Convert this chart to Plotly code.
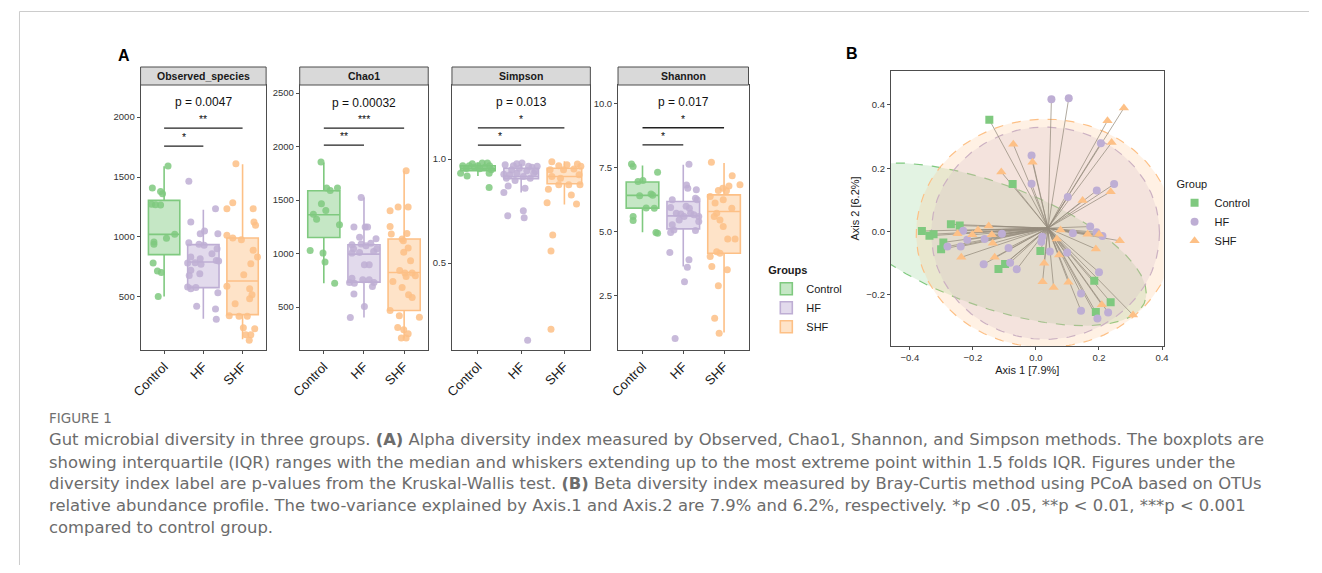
import numpy as np
import plotly.graph_objects as go

PAGE_W, PAGE_H = 1322, 573
OFF = 8  # browser body margin
W, H = PAGE_W - 2 * OFF, PAGE_H - 2 * OFF

# ---------------- data ----------------
groups = ["Control", "HF", "SHF"]
colors = ["#7FC97F", "#BEAED4", "#FDC086"]
facet_names = ["Observed_species", "Chao1", "Simpson", "Shannon"]
p_values = ["p = 0.0047", "p = 0.00032", "p = 0.013", "p = 0.017"]
sig_short = ["*", "**", "*", "*"]      # Control vs HF
sig_long = ["**", "***", "*", "*"]     # Control vs SHF
bar_short_y = [1758, 2014, 1.067, 8.40]
bar_long_y = [1908, 2173, 1.150, 9.07]
p_label_y = [2125, 2407, 1.275, 10.09]
y_ranges = [[58, 2267], [100, 2575], [0.082, 1.356], [0.39, 10.74]]
y_ticks = [[500, 1000, 1500, 2000], [500, 1000, 1500, 2000, 2500], [0.5, 1.0], [2.5, 5.0, 7.5, 10.0]]
y_tickfmt = ["d", "d", ".1f", ".1f"]

# box statistics (Control, HF, SHF)
obs_q1 = [853, 578, 353]
obs_median = [1022, 792, 633]
obs_q3 = [1305, 936, 992]
obs_lower = [505, 319, 147]
obs_upper = [1589, 1228, 1606]

chao_q1 = [1151, 734, 469]
chao_median = [1363, 995, 824]
chao_q3 = [1587, 1083, 1136]
chao_lower = [724, 404, 211]
chao_upper = [1852, 1525, 1774]

simp_q1 = [0.944, 0.905, 0.881]
simp_median = [0.953, 0.916, 0.916]
simp_q3 = [0.968, 0.956, 0.956]
simp_lower = [0.919, 0.839, 0.782]
simp_upper = [0.984, 0.977, 0.989]

shan_q1 = [5.93, 5.12, 4.17]
shan_median = [6.43, 5.63, 5.80]
shan_q3 = [6.95, 6.19, 6.45]
shan_lower = [4.99, 3.65, 1.07]
shan_upper = [7.60, 7.63, 7.69]

# sample values and their horizontal jitter (category units)
obs_control = [1592, 1408, 1380, 1361, 1272, 1269, 1266, 1023, 989, 958, 939, 783, 717, 703, 505]
obs_control_jit = [0.10, -0.30, -0.09, -0.04, -0.32, -0.22, -0.09, 0.27, 0.06, -0.26, -0.26, -0.28, -0.17, -0.07, -0.15]
obs_hf = [1464, 1125, 1236, 1028, 1050, 1028, 953, 939, 931, 903, 861, 833, 819, 805, 783, 786, 772, 800,
          722, 694, 680, 583, 569, 578, 536, 422, 400, 314]
obs_hf_jit = [-0.37, -0.32, 0.31, -0.08, 0.03, 0.37, -0.37, -0.11, 0.02, 0.35, 0.22, -0.32, -0.08, 0.33, -0.40,
              -0.21, -0.06, 0.39, -0.32, -0.09, -0.36, -0.40, -0.32, -0.19, 0.37, -0.17, 0.31, 0.33]
obs_shf = [1611, 1286, 1236, 1236, 1125, 1097, 1014, 992, 978, 889, 833, 778, 686, 589, 569, 519, 486, 444,
           344, 339, 339, 244, 236, 186, 186, 139]
obs_shf_jit = [-0.17, -0.25, -0.40, 0.27, 0.29, 0.33, -0.40, -0.25, -0.03, 0.27, 0.38, 0.21, 0.03, -0.40, 0.18,
               0.24, 0.18, -0.19, -0.34, -0.09, 0.12, 0.02, 0.31, 0.08, 0.21, 0.17]

chao_control = [1855, 1612, 1590, 1612, 1466, 1404, 1369, 1322, 1270, 1030, 1005, 921, 724]
chao_control_jit = [-0.07, 0.07, 0.16, 0.34, -0.06, 0.05, -0.26, -0.18, 0.39, -0.34, -0.02, 0.03, 0.27]
chao_hf = [1525, 1248, 1248, 1248, 1154, 1139, 1083, 1089, 1073, 1098, 1045, 1045, 1005, 1011, 1020, 896, 896,
           771, 756, 756, 731, 724, 731, 693, 622, 506, 404]
chao_hf_jit = [-0.07, -0.25, 0.03, 0.09, -0.11, 0.30, -0.30, -0.07, 0.05, 0.17, -0.26, 0.32, -0.30, -0.11, 0.24,
               0.01, 0.13, -0.30, -0.03, 0.13, -0.36, -0.24, 0.25, 0.21, -0.25, 0.01, -0.34]
chao_shf = [1774, 1400, 1435, 1435, 1254, 1183, 1189, 1136, 1120, 1052, 1014, 933, 843, 818, 818, 787, 793, 684,
            740, 615, 590, 469, 419, 407, 310, 288, 251, 211, 211]
chao_shf_jit = [0.05, -0.35, -0.15, 0.10, -0.35, -0.32, 0.07, -0.05, -0.02, 0.10, -0.01, 0.16, -0.11, 0.02, 0.20,
                0.05, 0.28, -0.05, -0.28, 0.11, 0.20, -0.35, -0.12, 0.38, -0.16, -0.01, 0.10, -0.07, 0.05]

simp_control = [0.968, 0.919, 0.932, 0.968, 0.977, 0.968, 0.981, 0.981, 0.968, 0.948, 0.932, 0.960, 0.960,
                0.955, 0.863, 0.953]
simp_control_jit = [-0.35, -0.25, -0.40, -0.20, -0.13, 0.0, 0.10, 0.22, 0.27, 0.31, 0.26, -0.08, 0.16, -0.27,
                    0.26, 0.04]
simp_hf = [0.973, 0.968, 0.977, 0.981, 0.965, 0.961, 0.965, 0.927, 0.924, 0.932, 0.916, 0.932, 0.948, 0.944,
           0.871, 0.860, 0.839, 0.727, 0.752, 0.718, 0.129, 0.956, 0.908, 0.908, 0.897, 0.940]
simp_hf_jit = [-0.37, -0.18, -0.10, 0.02, 0.17, 0.25, 0.37, -0.40, -0.26, -0.10, 0.05, 0.29, -0.22, 0.13, -0.30,
               0.09, -0.40, -0.31, 0.05, 0.07, 0.15, -0.04, -0.34, 0.21, -0.14, 0.33]
simp_shf = [0.987, 0.968, 0.973, 0.976, 0.965, 0.948, 0.948, 0.952, 0.924, 0.916, 0.908, 0.855, 0.876, 0.876,
            0.876, 0.827, 0.790, 0.784, 0.635, 0.558, 0.182]
simp_shf_jit = [-0.29, -0.13, 0.06, 0.30, 0.38, -0.33, -0.02, 0.22, 0.34, -0.29, -0.09, -0.37, -0.13, 0.10,
                0.36, 0.16, -0.40, 0.28, -0.27, -0.31, -0.31]

shan_control = [7.65, 7.56, 6.97, 7.01, 7.33, 6.41, 6.48, 6.43, 5.94, 5.93, 5.60, 5.45, 4.98, 4.95]
shan_control_jit = [-0.27, -0.23, -0.11, 0.01, 0.37, -0.07, 0.21, 0.25, 0.09, 0.29, -0.23, -0.23, 0.33, 0.37]
shan_hf = [7.64, 6.83, 6.71, 6.65, 6.32, 6.26, 6.26, 5.96, 5.73, 5.70, 5.73, 5.67, 5.60, 5.41, 5.60, 5.47, 5.28,
           5.08, 5.06, 4.98, 6.00, 5.93, 4.20, 3.91, 3.62, 3.06, 0.84]
shan_hf_jit = [0.14, 0.08, 0.11, 0.32, 0.30, 0.34, -0.27, -0.31, -0.17, -0.06, 0.18, 0.26, 0.38, 0.38, 0.02,
               -0.10, -0.27, -0.23, 0.30, -0.31, 0.07, 0.15, -0.33, 0.14, 0.10, 0.03, -0.20]
shan_shf = [7.72, 7.20, 6.84, 6.80, 6.71, 6.62, 6.61, 6.39, 6.13, 6.26, 5.93, 5.73, 5.60, 5.47, 5.21, 4.73, 4.73,
            4.23, 4.17, 4.04, 3.65, 3.52, 2.90, 1.63, 1.04]
shan_shf_jit = [-0.31, 0.20, 0.39, 0.12, -0.03, -0.14, 0.06, -0.34, -0.22, -0.02, 0.19, -0.18, -0.24, -0.10,
                -0.02, 0.27, 0.09, -0.18, -0.10, -0.34, -0.30, 0.08, -0.14, -0.23, -0.12]

# PCoA coordinates (Axis 1, Axis 2)
pc_control_x = [-0.148, -0.074, -0.362, -0.338, -0.325, -0.294, -0.301, -0.270, -0.242, -0.119, -0.098,
                0.014, 0.185, 0.237, 0.190]
pc_control_y = [0.353, 0.150, 0.002, -0.013, -0.008, -0.034, -0.056, 0.023, 0.019, -0.118, -0.102,
                -0.061, -0.155, -0.223, -0.254]
pc_hf_x = [-0.231, -0.218, -0.281, -0.239, -0.163, -0.108, -0.087, -0.166, -0.082, -0.061, -0.014, -0.014,
           0.049, 0.104, 0.206, 0.101, 0.193, 0.248, 0.172, 0.192, 0.211, 0.117, 0.020, 0.017, 0.044, 0.099,
           0.200, 0.143, 0.143, 0.195, 0.229]
pc_hf_y = [0.003, -0.026, -0.047, -0.047, -0.023, -0.007, -0.052, -0.103, -0.098, -0.119, 0.240, 0.151,
           0.418, 0.421, 0.279, 0.109, 0.130, 0.150, 0.016, -0.002, -0.014, -0.005, -0.016, -0.032, -0.063,
           -0.066, -0.128, -0.195, -0.250, -0.274, -0.255]
pc_shf_x = [-0.072, -0.011, -0.110, -0.150, -0.184, -0.202, -0.249, -0.140, -0.137, -0.131, -0.237,
            0.279, 0.227, 0.240, 0.237, 0.148, 0.078, 0.066, 0.164, 0.200, 0.266, 0.190, 0.073, 0.026,
            0.021, 0.056, 0.103, 0.209, 0.308]
pc_shf_y = [0.276, 0.219, 0.188, 0.018, 0.005, -0.010, -0.007, -0.010, -0.037, -0.081, -0.081,
            0.390, 0.350, 0.281, 0.126, 0.098, 0.005, -0.023, -0.008, -0.008, -0.029, -0.055, -0.074, -0.100,
            -0.158, -0.176, -0.160, -0.231, -0.263]
pc_centroid = [0.038, 0.011]

# 95% ellipses: centre, horizontal half-width, tilt of chord midline, vertical half-chord at centre
ell_cx = [-0.15, 0.03, 0.03]
ell_cy = [-0.04, -0.005, -0.005]
ell_h = [0.50, 0.362, 0.41]
ell_tilt = [-0.31, 0.0, 0.0]
ell_k = [0.205, 0.335, 0.36]

caption_title = "FIGURE 1"
caption_lines = [
    "Gut microbial diversity in three groups. <b>(A)</b> Alpha diversity index measured by Observed, Chao1, Shannon, and Simpson methods. The boxplots are",
    "showing interquartile (IQR) ranges with the median and whiskers extending up to the most extreme point within 1.5 folds IQR. Figures under the",
    "diversity index label are p-values from the Kruskal-Wallis test. <b>(B)</b> Beta diversity index measured by Bray-Curtis method using PCoA based on OTUs",
    "relative abundance profile. The two-variance explained by Axis.1 and Axis.2 are 7.9% and 6.2%, respectively. *p &lt;0 .05, **p &lt; 0.01, ***p &lt; 0.001",
    "compared to control group.",
]

# ---------------- layout helpers (page pixel -> paper) ----------------
def px_x(p):
    return (p - OFF) / W

def px_y(p):
    return 1 - (p - OFF) / H

def rgba(hexc, a):
    h = hexc.lstrip("#")
    return "rgba(%d,%d,%d,%.2f)" % (int(h[0:2], 16), int(h[2:4], 16), int(h[4:6], 16), a)

FONT = "Liberation Sans, Arial, sans-serif"
facet_px = [(132, 259), (293, 423), (447, 587), (615, 747)]
panel_top, panel_bot, strip_top = 85, 350, 67

box_stats = [
    (obs_q1, obs_median, obs_q3, obs_lower, obs_upper),
    (chao_q1, chao_median, chao_q3, chao_lower, chao_upper),
    (simp_q1, simp_median, simp_q3, simp_lower, simp_upper),
    (shan_q1, shan_median, shan_q3, shan_lower, shan_upper),
]
facet_points = [
    [(obs_control, obs_control_jit), (obs_hf, obs_hf_jit), (obs_shf, obs_shf_jit)],
    [(chao_control, chao_control_jit), (chao_hf, chao_hf_jit), (chao_shf, chao_shf_jit)],
    [(simp_control, simp_control_jit), (simp_hf, simp_hf_jit), (simp_shf, simp_shf_jit)],
    [(shan_control, shan_control_jit), (shan_hf, shan_hf_jit), (shan_shf, shan_shf_jit)],
]

fig = go.Figure()
shapes = []
annotations = []
layout = {}

for f in range(4):
    sfx = "" if f == 0 else str(f + 1)
    xa, ya = "x" + sfx, "y" + sfx
    q1, med, q3, lo, up = box_stats[f]
    for g in range(3):
        fig.add_trace(go.Box(
            x=[g + 1], q1=[q1[g]], median=[med[g]], q3=[q3[g]],
            lowerfence=[lo[g]], upperfence=[up[g]],
            width=0.8, whiskerwidth=0, boxpoints=False,
            fillcolor=rgba(colors[g], 0.45), line=dict(color=colors[g], width=1.6),
            name=groups[g], legendgroup=groups[g], showlegend=(f == 0),
            legend="legend", xaxis=xa, yaxis=ya, hoverinfo="skip",
        ))
    for g in range(3):
        vals, jit = facet_points[f][g]
        fig.add_trace(go.Scatter(
            x=[g + 1 + j for j in jit], y=vals, mode="markers",
            marker=dict(color=colors[g], size=7, opacity=0.85),
            showlegend=False, xaxis=xa, yaxis=ya, hoverinfo="skip",
        ))
    x0, x1 = facet_px[f]
    layout["xaxis" + sfx] = dict(
        domain=[px_x(x0), px_x(x1)], range=[0.4, 3.6], anchor=ya,
        tickvals=[1, 2, 3], ticktext=groups, tickangle=-45,
        tickfont=dict(family=FONT, size=13, color="#1a1a1a"),
        showgrid=False, zeroline=False, showline=True, mirror=True,
        linecolor="#4d4d4d", linewidth=1, ticks="outside", ticklen=3, tickcolor="#4d4d4d",
    )
    layout["yaxis" + sfx] = dict(
        domain=[px_y(panel_bot), px_y(panel_top)], range=y_ranges[f], anchor=xa,
        tickvals=y_ticks[f], tickformat=y_tickfmt[f],
        tickfont=dict(family=FONT, size=9.5, color="#333333"),
        showgrid=False, zeroline=False, showline=True, mirror=True,
        linecolor="#4d4d4d", linewidth=1, ticks="outside", ticklen=3, tickcolor="#4d4d4d",
    )
    # strip
    shapes.append(dict(type="rect", xref="paper", yref="paper",
                       x0=px_x(x0), x1=px_x(x1), y0=px_y(panel_top), y1=px_y(strip_top),
                       fillcolor="#D9D9D9", line=dict(color="#4d4d4d", width=1)))
    annotations.append(dict(text="<b>%s</b>" % facet_names[f], xref="paper", yref="paper",
                            x=px_x((x0 + x1) / 2), y=px_y((strip_top + panel_top) / 2),
                            showarrow=False, font=dict(family=FONT, size=10.5, color="#1a1a1a"),
                            xanchor="center", yanchor="middle"))
    # p-value and significance bars
    annotations.append(dict(text=p_values[f], xref=xa, yref=ya, x=2, y=p_label_y[f],
                            showarrow=False, font=dict(family=FONT, size=12, color="#111111"),
                            xanchor="center", yanchor="middle"))
    for (gx, by, lab) in [(3, bar_long_y[f], sig_long[f]), (2, bar_short_y[f], sig_short[f])]:
        shapes.append(dict(type="line", xref=xa, yref=ya, x0=1, x1=gx, y0=by, y1=by,
                           line=dict(color="#222222", width=1.3)))
        annotations.append(dict(text=lab, xref=xa, yref=ya, x=(1 + gx) / 2, y=by,
                                showarrow=False, font=dict(family=FONT, size=10.5, color="#111111"),
                                xanchor="center", yanchor="bottom", yshift=1))

# ---------------- panel B ----------------
t = np.linspace(0, 2 * np.pi, 241)
for g in range(3):
    ex = ell_cx[g] + ell_h[g] * np.cos(t)
    ey = ell_cy[g] + ell_tilt[g] * ell_h[g] * np.cos(t) + ell_k[g] * np.sin(t)
    fig.add_trace(go.Scatter(
        x=ex, y=ey, mode="lines", fill="toself", fillcolor=rgba(colors[g], 0.22),
        line=dict(color=colors[g], width=1.2, dash="dash"),
        showlegend=False, xaxis="x5", yaxis="y5", hoverinfo="skip",
    ))

pc_sets = [(pc_control_x, pc_control_y), (pc_hf_x, pc_hf_y), (pc_shf_x, pc_shf_y)]
for g in range(3):
    sx, sy = [], []
    for px_, py_ in zip(*pc_sets[g]):
        sx += [pc_centroid[0], px_, None]
        sy += [pc_centroid[1], py_, None]
    fig.add_trace(go.Scatter(
        x=sx, y=sy, mode="lines", line=dict(color="rgba(150,140,125,0.75)", width=1),
        showlegend=False, xaxis="x5", yaxis="y5", hoverinfo="skip",
    ))

symbols = ["square", "circle", "triangle-up"]
sizes = [8, 8, 9]
for g in range(3):
    fig.add_trace(go.Scatter(
        x=pc_sets[g][0], y=pc_sets[g][1], mode="markers",
        marker=dict(color=colors[g], symbol=symbols[g], size=sizes[g]),
        name=groups[g], legend="legend2", xaxis="x5", yaxis="y5", hoverinfo="skip",
    ))

layout["xaxis5"] = dict(
    domain=[px_x(891), px_x(1167)], range=[-0.4605, 0.4053], anchor="y5",
    tickvals=[-0.4, -0.2, 0.0, 0.2, 0.4], tickformat=".1f",
    tickfont=dict(family=FONT, size=9.5, color="#333333"),
    title=dict(text="Axis 1 [7.9%]", font=dict(family=FONT, size=11, color="#1a1a1a"), standoff=3),
    showgrid=False, zeroline=False, showline=True, mirror=True,
    linecolor="#4d4d4d", linewidth=1, ticks="outside", ticklen=3, tickcolor="#4d4d4d",
)
layout["yaxis5"] = dict(
    domain=[px_y(346), px_y(71)], range=[-0.361, 0.507], anchor="x5",
    tickvals=[-0.2, 0.0, 0.2, 0.4], tickformat=".1f",
    tickfont=dict(family=FONT, size=9.5, color="#333333"),
    title=dict(text="Axis 2 [6.2%]", font=dict(family=FONT, size=11, color="#1a1a1a"), standoff=4),
    showgrid=False, zeroline=False, showline=True, mirror=True,
    linecolor="#4d4d4d", linewidth=1, ticks="outside", ticklen=3, tickcolor="#4d4d4d",
)

# panel letters
annotations.append(dict(text="<b>A</b>", xref="paper", yref="paper", x=px_x(107), y=px_y(55),
                        showarrow=False, font=dict(family=FONT, size=16, color="#000"),
                        xanchor="left", yanchor="middle"))
annotations.append(dict(text="<b>B</b>", xref="paper", yref="paper", x=px_x(844), y=px_y(54),
                        showarrow=False, font=dict(family=FONT, size=16, color="#000"),
                        xanchor="left", yanchor="middle"))

# caption
CAP_FONT = "DejaVu Sans, Open Sans, sans-serif"
annotations.append(dict(text=caption_title, xref="paper", yref="paper", x=px_x(37.5), y=px_y(418),
                        showarrow=False, font=dict(family=CAP_FONT, size=13.5, color="#707070"),
                        xanchor="left", yanchor="middle"))
cap_y = [440, 462, 483, 505, 527]
for line, yy in zip(caption_lines, cap_y):
    annotations.append(dict(text=line, xref="paper", yref="paper", x=px_x(37.5), y=px_y(yy),
                            showarrow=False, font=dict(family=CAP_FONT, size=16.4, color="#6c6c6c"),
                            xanchor="left", yanchor="middle"))

# page frame lines
shapes.append(dict(type="line", xref="paper", yref="paper", x0=px_x(9.5), x1=1, y0=px_y(11.5), y1=px_y(11.5),
                   line=dict(color="#cccccc", width=1)))
shapes.append(dict(type="line", xref="paper", yref="paper", x0=px_x(9.5), x1=px_x(9.5), y0=0, y1=px_y(11.5),
                   line=dict(color="#cccccc", width=1)))

fig.update_layout(
    width=W, height=H, margin=dict(l=0, r=0, t=0, b=0),
    paper_bgcolor="white", plot_bgcolor="white",
    shapes=shapes, annotations=annotations,
    boxmode="overlay",
    legend=dict(x=px_x(765), y=px_y(260), xanchor="left", yanchor="top",
                title=dict(text="<b>Groups</b>", font=dict(family=FONT, size=11, color="#1a1a1a")),
                font=dict(family=FONT, size=11, color="#1a1a1a"), bgcolor="rgba(0,0,0,0)",
                tracegroupgap=0, itemwidth=30),
    legend2=dict(x=px_x(1178), y=px_y(174), xanchor="left", yanchor="top",
                 title=dict(text="Group", font=dict(family=FONT, size=11, color="#1a1a1a")),
                 font=dict(family=FONT, size=11, color="#1a1a1a"), bgcolor="rgba(0,0,0,0)",
                 tracegroupgap=0, itemwidth=30),
    **layout,
)

fig.write_html("out.html")
